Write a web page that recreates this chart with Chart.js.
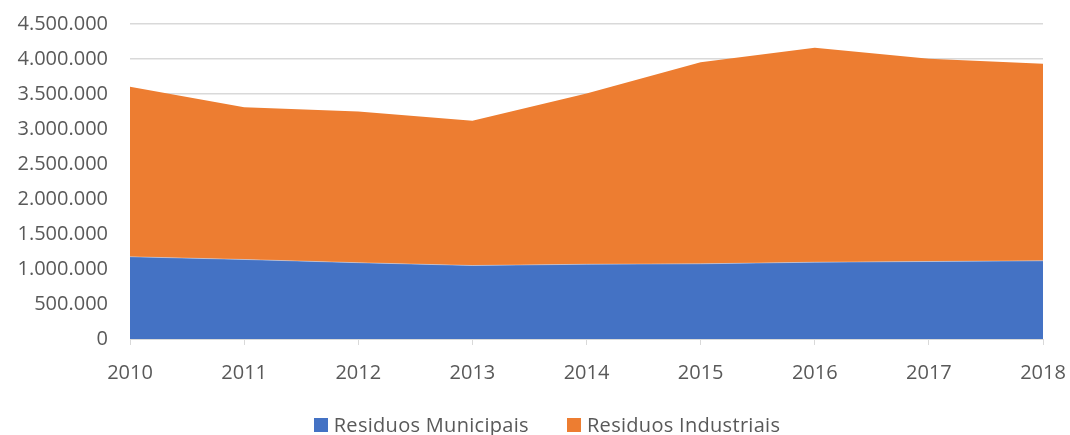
<!DOCTYPE html>
<html>
<head>
<meta charset="utf-8">
<script src="https://cdn.jsdelivr.net/npm/chart.js@4/dist/chart.umd.min.js"></script>
<style>
  html, body { margin: 0; padding: 0; background: #fff; overflow: hidden; }
  #wrap { position: relative; width: 1070px; height: 435px; }
  #legend {
    position: absolute; left: 24px; right: 0; top: 414px;
    display: flex; justify-content: center; gap: 38px;
    font-family: "Open Sans", sans-serif; font-size: 20px; line-height: 22px;
    letter-spacing: 0.3px; color: #595959;
  }
  .item { display: flex; align-items: center; }
  .box { width: 14px; height: 14px; margin-right: 6px; }
</style>
</head>
<body>
<div id="wrap">
  <canvas id="chart" width="1070" height="435"></canvas>
  <div id="legend"></div>
</div>
<script>
// Years on the x axis
const years = ["2010", "2011", "2012", "2013", "2014", "2015", "2016", "2017", "2018"];

// Values (tonnes)
const municipais = [1175000, 1136000, 1090000, 1050000, 1068000, 1074000, 1097000, 1107000, 1117000];
const industriais = [2428000, 2175000, 2160000, 2067000, 2439000, 2880000, 3063000, 2896000, 2814000];

const seriesNames = ["Residuos Municipais", "Residuos Industriais"];
const seriesColors = ["#4472C4", "#ED7D31"];

// 4500000 -> "4.500.000"
function fmt(v) {
    return String(v).replace(/\B(?=(\d{3})+(?!\d))/g, ".");
}

const textColor = "#595959";
const gridColor = "#d9d9d9";

const ctx = document.getElementById("chart").getContext("2d");
const chart = new Chart(ctx, {
    type: "line",
    data: {
        labels: years,
        datasets: [{
            label: seriesNames[0],
            data: municipais,
            backgroundColor: seriesColors[0],
            borderColor: "rgba(255,255,255,0.35)",
            borderWidth: 1,
            fill: "origin",
            pointRadius: 0,
            tension: 0
        }, {
            label: seriesNames[1],
            data: industriais,
            backgroundColor: seriesColors[1],
            borderWidth: 0,
            fill: "-1",
            pointRadius: 0,
            tension: 0
        }]
    },
    options: {
        responsive: false,
        animation: false,
        layout: {
            padding: { left: 0, right: 27, top: 24, bottom: 45 }
        },
        plugins: {
            legend: { display: false },
            tooltip: { enabled: false }
        },
        scales: {
            x: {
                offset: false,
                grid: {
                    drawOnChartArea: false,
                    drawTicks: true,
                    tickLength: 6,
                    color: gridColor
                },
                border: { color: gridColor, width: 1 },
                ticks: {
                    color: textColor,
                    font: { family: "'Open Sans', sans-serif", size: 20 },
                    padding: 16,
                    maxRotation: 0
                },
                afterFit: function(scale) {
                    scale.height = 51;
                    scale.paddingLeft = 0;
                    scale.paddingRight = 0;
                }
            },
            y: {
                stacked: true,
                min: 0,
                max: 4500000,
                ticks: {
                    stepSize: 500000,
                    color: textColor,
                    font: { family: "'Open Sans', sans-serif", size: 20 },
                    padding: 22,
                    callback: function(v) { return fmt(v); }
                },
                grid: {
                    color: gridColor,
                    lineWidth: 1.5,
                    drawTicks: false
                },
                border: { display: false },
                afterFit: function(scale) {
                    scale.width = 130;
                    scale.paddingTop = 0;
                    scale.paddingBottom = 0;
                }
            }
        }
    }
});

// HTML legend built from the datasets
const legend = document.getElementById("legend");
chart.data.datasets.forEach(function(ds) {
    const item = document.createElement("div");
    item.className = "item";
    const box = document.createElement("span");
    box.className = "box";
    box.style.background = ds.backgroundColor;
    const label = document.createElement("span");
    label.textContent = ds.label;
    item.appendChild(box);
    item.appendChild(label);
    legend.appendChild(item);
});
</script>
</body>
</html>
